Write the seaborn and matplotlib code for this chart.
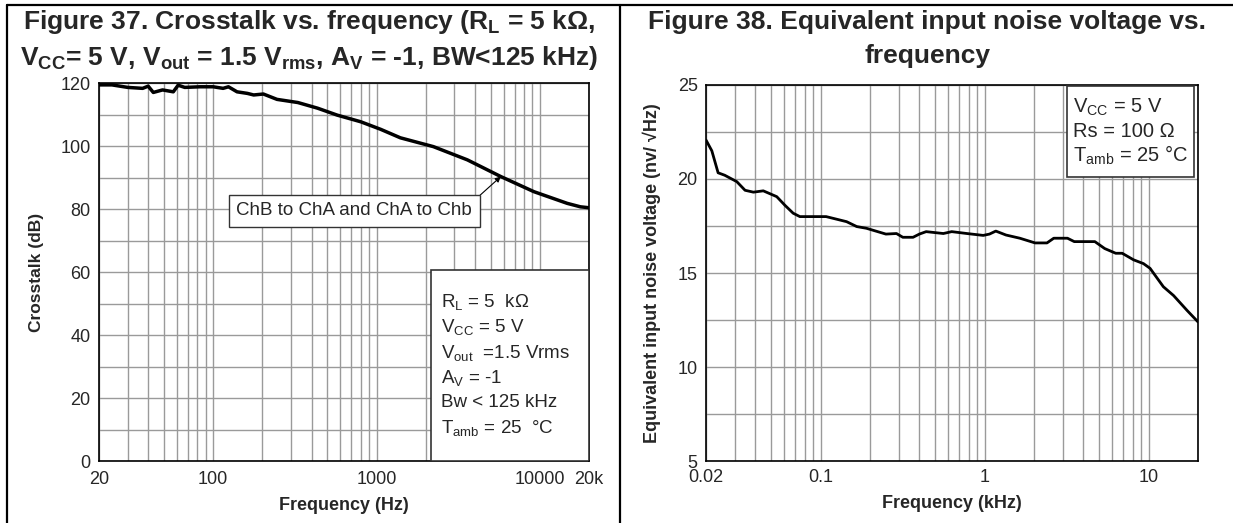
import numpy as np
import pandas as pd
import matplotlib
matplotlib.use('Agg')
import matplotlib.pyplot as plt
from matplotlib.patches import Rectangle
from matplotlib.lines import Line2D
import matplotlib.ticker as mticker
import seaborn as sns

# Crosstalk curve (Hz, dB)
xt_freq = [20, 24, 30, 37, 40, 43, 49, 57, 61, 67, 83, 100, 115, 124, 140, 162,
           177, 203, 246, 330, 436, 575, 800, 1060, 1400, 2230, 3600, 5770,
           9200, 14700, 17700, 20000]
xt_db = [119.4, 119.4, 118.6, 118.3, 119.0, 117.0, 117.8, 117.2, 119.3, 118.6,
         118.8, 118.8, 118.3, 118.8, 117.2, 116.7, 116.2, 116.5, 114.8, 113.8,
         112.0, 109.8, 107.7, 105.3, 102.6, 99.8, 95.6, 90.3, 85.5, 81.8, 80.7, 80.4]

# Noise curve (kHz, nV/sqrt(Hz))
nz_freq = [0.02, 0.0217, 0.0237, 0.026, 0.0308, 0.0346, 0.0389, 0.0447, 0.054,
           0.0606, 0.068, 0.0747, 0.0987, 0.108, 0.144, 0.166, 0.19, 0.25, 0.29,
           0.317, 0.366, 0.40, 0.44, 0.56, 0.63, 0.78, 0.98, 1.07, 1.17, 1.35,
           1.64, 2.03, 2.4, 2.64, 3.2, 3.52, 4.7, 5.4, 6.3, 6.9, 8.1, 9.3, 10.2,
           12.3, 14.2, 17.2, 20.0]
nz_val = [22.07, 21.5, 20.33, 20.2, 19.86, 19.4, 19.3, 19.37, 19.06, 18.6, 18.18,
          18.0, 18.0, 18.0, 17.73, 17.47, 17.38, 17.07, 17.1, 16.9, 16.9, 17.07,
          17.2, 17.1, 17.2, 17.1, 17.0, 17.07, 17.23, 17.02, 16.85, 16.6, 16.6,
          16.85, 16.85, 16.67, 16.67, 16.3, 16.05, 16.05, 15.7, 15.5, 15.25,
          14.27, 13.8, 13.0, 12.4]

left_xticks = [20, 100, 1000, 10000, 20000]
left_xlabels = ['20', '100', '1000', '10000', '20k']
right_xticks = [0.02, 0.1, 1, 10]
right_xlabels = ['0.02', '0.1', '1', '10']

sns.set_style('white')
plt.rcParams['font.family'] = ['Liberation Sans', 'DejaVu Sans']
plt.rcParams['mathtext.fontset'] = 'custom'
plt.rcParams['mathtext.rm'] = 'Liberation Sans'
plt.rcParams['mathtext.it'] = 'Liberation Sans:italic'
plt.rcParams['mathtext.bf'] = 'Liberation Sans:bold'

fig = plt.figure(figsize=(12.33, 5.23), dpi=100)
ax1 = fig.add_axes([0.0803, 0.1185, 0.3974, 0.7228])
ax2 = fig.add_axes([0.5726, 0.1185, 0.3990, 0.7190])

grid_col = '#9a9a9a'


def style_axis(ax):
    ax.set_xscale('log')
    ax.xaxis.set_minor_locator(mticker.LogLocator(base=10, subs=np.arange(2, 10)))
    ax.xaxis.set_minor_formatter(mticker.NullFormatter())
    ax.grid(True, which='both', color=grid_col, lw=1.0)
    ax.set_axisbelow(True)
    for s in ax.spines.values():
        s.set_color('black')
        s.set_linewidth(1.2)
    ax.tick_params(axis='x', which='both', direction='in', length=4, width=1,
                   color='black', labelsize=13, pad=7)
    ax.tick_params(axis='y', which='both', direction='out', length=4, width=1,
                   color='black', labelsize=13, pad=2)


# ---- Figure 37 ----
df1 = pd.DataFrame({'freq': xt_freq, 'db': xt_db})
sns.lineplot(data=df1, x='freq', y='db', ax=ax1, color='black', lw=2.5)
style_axis(ax1)
ax1.set_xlim(20, 20000)
ax1.set_ylim(0, 120)
ax1.set_yticks(np.arange(0, 121, 20))
ax1.yaxis.set_minor_locator(mticker.MultipleLocator(10))
ax1.set_xticks(left_xticks)
ax1.set_xticklabels(left_xlabels)
ax1.set_xlabel('Frequency (Hz)', fontsize=13, fontweight='bold', labelpad=7)
ax1.set_ylabel('Crosstalk (dB)', fontsize=12.5, fontweight='bold', labelpad=12)

ax1.annotate('ChB to ChA and ChA to Chb', xy=(5770, 90.3), xytext=(730, 79.4),
             ha='center', va='center', fontsize=13.5,
             bbox=dict(boxstyle='square,pad=0.4', fc='white', ec='#333333', lw=1),
             arrowprops=dict(arrowstyle='-|>', color='black', lw=0.8,
                             mutation_scale=8, relpos=(1, 1), shrinkA=0, shrinkB=0))

ax1.add_patch(Rectangle((0.678, 0.0), 0.322, 0.505, transform=ax1.transAxes,
                        fc='white', ec='#333333', lw=1.2, zorder=5))
params1 = [r'R$_\mathrm{L}$ = 5  kΩ', r'V$_\mathrm{CC}$ = 5 V',
           r'V$_\mathrm{out}$  =1.5 Vrms', r'A$_\mathrm{V}$ = -1',
           'Bw < 125 kHz', r'T$_\mathrm{amb}$ = 25  °C']
for i, t in enumerate(params1):
    ax1.text(0.698, 0.42 - i * 0.0665, t, transform=ax1.transAxes, fontsize=13.5,
             va='center', ha='left', zorder=6)

# ---- Figure 38 ----
df2 = pd.DataFrame({'freq': nz_freq, 'val': nz_val})
sns.lineplot(data=df2, x='freq', y='val', ax=ax2, color='black', lw=2.0)
style_axis(ax2)
ax2.set_xlim(0.02, 20)
ax2.set_ylim(5, 25)
ax2.set_yticks(np.arange(5, 26, 5))
ax2.yaxis.set_minor_locator(mticker.MultipleLocator(2.5))
ax2.set_xticks(right_xticks)
ax2.set_xticklabels(right_xlabels)
ax2.tick_params(axis='x', pad=6)
ax2.set_xlabel('Frequency (kHz)', fontsize=13, fontweight='bold', labelpad=6)
ax2.set_ylabel('Equivalent input noise voltage (nv/ √Hz)', fontsize=13,
               fontweight='bold', labelpad=12)

ax2.add_patch(Rectangle((0.734, 0.755), 0.258, 0.242, transform=ax2.transAxes,
                        fc='white', ec='#333333', lw=1.2, zorder=5))
params2 = [r'V$_\mathrm{CC}$ = 5 V', 'Rs = 100 Ω', r'T$_\mathrm{amb}$ = 25 °C']
for i, t in enumerate(params2):
    ax2.text(0.745, 0.94 - i * 0.064, t, transform=ax2.transAxes, fontsize=14.5,
             va='center', ha='left', zorder=6)

# ---- titles ----
fig.text(0.251, 0.958,
         r'Figure 37. Crosstalk vs. frequency (R$_\mathbf{L}$ = 5 kΩ,',
         ha='center', va='center', fontsize=19, fontweight='bold')
fig.text(0.251, 0.890,
         r'V$_\mathbf{CC}$= 5 V, V$_\mathbf{out}$ = 1.5 V$_\mathbf{rms}$, '
         r'A$_\mathbf{V}$ = -1, BW<125 kHz)',
         ha='center', va='center', fontsize=19, fontweight='bold')
fig.text(0.752, 0.958, 'Figure 38. Equivalent input noise voltage vs.',
         ha='center', va='center', fontsize=19, fontweight='bold')
fig.text(0.752, 0.893, 'frequency',
         ha='center', va='center', fontsize=19, fontweight='bold')

# ---- table frame ----
fig.add_artist(Line2D([0.0057, 1.0], [0.991, 0.991], transform=fig.transFigure,
                      color='black', lw=1.6))
fig.add_artist(Line2D([0.0057, 0.0057], [0.0, 0.991], transform=fig.transFigure,
                      color='black', lw=1.6))
fig.add_artist(Line2D([0.5028, 0.5028], [0.0, 0.991], transform=fig.transFigure,
                      color='black', lw=1.6))

fig.savefig('out.png', dpi=100)
